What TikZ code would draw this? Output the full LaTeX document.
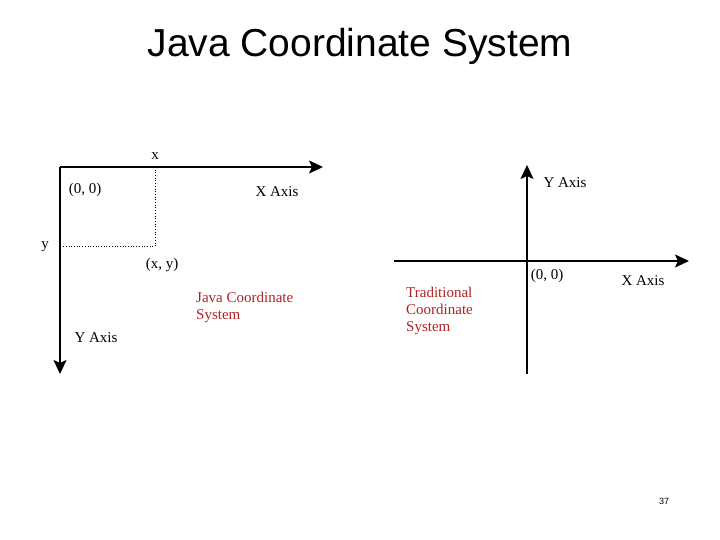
\documentclass[tikz,border=0pt]{standalone}
\usepackage{fontspec}
\setmainfont{Liberation Serif}
\newfontfamily\titlefont{Liberation Sans}
\usetikzlibrary{arrows.meta}
\definecolor{labelred}{RGB}{178,34,34}
\tikzset{
  axis/.style={line width=1.8pt,-{Stealth[length=14pt,width=13pt,inset=3pt]}},
  guide/.style={line width=0.7pt,dotted},
  lbl/.style={inner sep=0pt,font=\fontsize{15}{17}\selectfont},
  redlbl/.style={lbl,text=labelred,align=left,anchor=north west},
}
\begin{document}
\begin{tikzpicture}[x=1pt,y=-1pt]
\useasboundingbox (0,0) rectangle (720,540);
% title
\node[inner sep=0pt,font=\titlefont\fontsize{39}{42}\selectfont] (title) at (360,46) {Java Coordinate System};
% left: Java coordinate system
\coordinate (jo) at (60,167);
\coordinate (jx) at (323,167);
\coordinate (jy) at (60,374);
\coordinate (px) at (155,167);
\coordinate (pp) at (155,246);
\coordinate (py) at (62,246);
\draw[axis] (jo) -- (jx);
\draw[axis] (jo) -- (jy);
\draw[guide] (px) -- (pp) -- (py);
\node[lbl] (lx) at (155,156) {x};
\node[lbl] (lo) at (85,190) {(0, 0)};
\node[lbl] (lxa) at (277,192) {X Axis};
\node[lbl] (ly) at (45,247) {y};
\node[lbl] (lp) at (162,265) {(x, y)};
\node[redlbl] (jcs) at (196,292) {Java Coordinate\\System};
\node[lbl] (lya) at (96,338) {Y Axis};
% right: traditional coordinate system
\coordinate (tb) at (527,374);
\coordinate (tt) at (527,165);
\coordinate (tl) at (394,261);
\coordinate (tr) at (689,261);
\draw[axis] (tb) -- (tt);
\draw[axis] (tl) -- (tr);
\node[lbl] (rya) at (565,183) {Y Axis};
\node[lbl] (ro) at (547,276) {(0, 0)};
\node[lbl] (rxa) at (643,281) {X Axis};
\node[redlbl] (tcs) at (406,287) {Traditional\\Coordinate\\System};
% page number
\node[inner sep=0pt,font=\titlefont\fontsize{9}{10}\selectfont] (pg) at (664,501) {37};
\end{tikzpicture}
\end{document}
